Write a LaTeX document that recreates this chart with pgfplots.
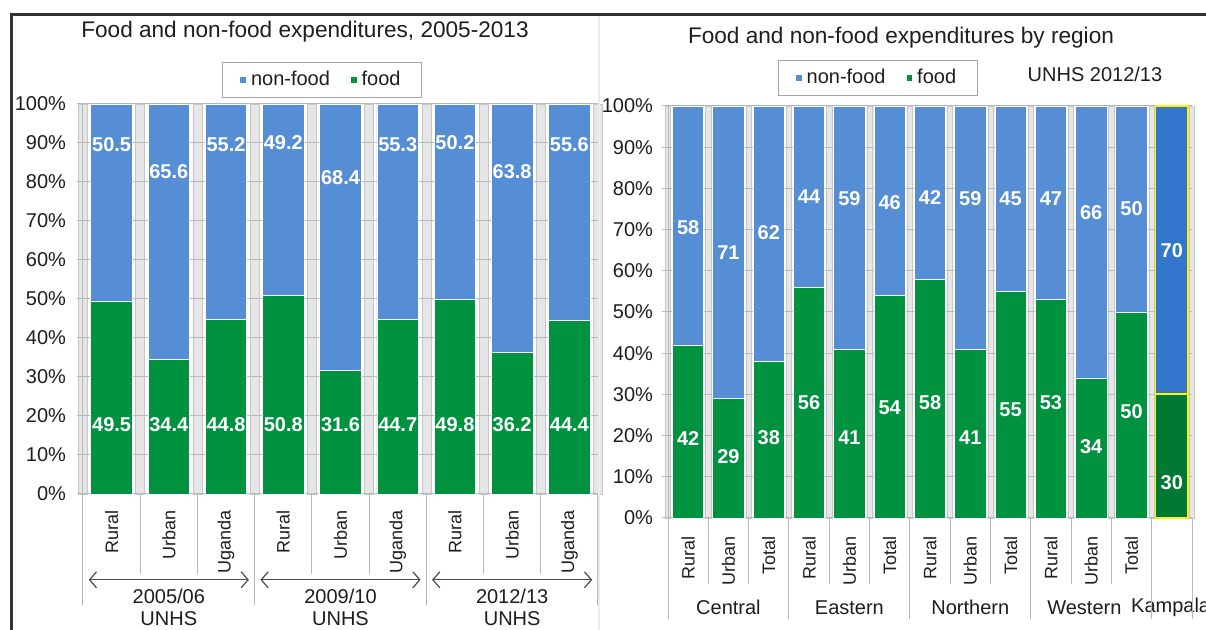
\documentclass[border=0pt]{standalone}
\usepackage{pgfplots}
\pgfplotsset{compat=1.18}
\usepackage{pgfplotstable}
\usepackage{fontspec}
\setmainfont{Liberation Sans}
\usetikzlibrary{arrows.meta}

\definecolor{nf}{RGB}{85,142,213}
\definecolor{fd}{RGB}{0,146,63}
\definecolor{kb}{RGB}{51,119,204}
\definecolor{kg}{RGB}{0,122,51}
\definecolor{gridc}{RGB}{185,185,185}
\definecolor{stripe}{RGB}{230,230,230}
\definecolor{txt}{RGB}{30,30,30}

\pgfplotstableread{
x food nonfood fy ny
0 49.5 50.5 17.7 89.5
1 34.4 65.6 17.7 82.6
2 44.8 55.2 17.7 89.5
3 50.8 49.2 17.7 90.0
4 31.6 68.4 17.7 81.0
5 44.7 55.3 17.7 89.5
6 49.8 50.2 17.7 90.0
7 36.2 63.8 17.7 82.6
8 44.4 55.6 17.7 89.5
}\lefttab

\pgfplotstableread{
x food nonfood fy ny
0 42 58 19.4 70.6
1 29 71 15.0 64.3
2 38 62 19.4 69.2
3 56 44 27.9 77.9
4 41 59 19.4 77.4
5 54 46 26.7 76.5
6 58 42 27.9 77.9
7 41 59 19.4 77.4
8 55 45 26.2 77.4
9 53 47 27.9 77.4
10 34 66 17.2 74.0
11 50 50 25.7 75.0
}\righttab

\pgfplotstableread{
x food nonfood fy ny
12 30 70 8.7 64.8
}\kamtab

\newcommand{\fs}{\fontsize{10}{12}\selectfont}
\newcommand{\fsn}{\fontsize{9}{11}\selectfont}

\pgfplotsset{
  leftgeom/.style={scale only axis, at={(41.5pt,68pt)}, anchor=south west,
    width=257.5pt, height=195pt, xmin=-0.5, xmax=8.5, ymin=0, ymax=100, clip=false},
  rightgeom/.style={scale only axis, at={(334pt,56pt)}, anchor=south west,
    width=262pt, height=206pt, xmin=-0.5, xmax=12.5, ymin=0, ymax=100, clip=false},
  mainstyle/.style={ybar stacked,
    axis x line*=bottom, axis y line*=left,
    axis line style={draw=gridc, line width=0.5pt},
    ymajorgrids, grid style={draw=gridc, line width=0.5pt},
    ytick={0,10,...,100},
    yticklabels={0\%,10\%,20\%,30\%,40\%,50\%,60\%,70\%,80\%,90\%,100\%},
    y tick style={draw=gridc, line width=0.5pt}, tick align=outside, major tick length=3pt,
    x tick style={draw=none},
    yticklabel style={font=\fs, text=txt},
    xticklabel style={font=\fsn, text=txt, rotate=90, anchor=east},
    reverse legend,
    legend cell align=left,
    legend image code/.code={\fill[##1] (0pt,-1.7pt) rectangle (3.4pt,1.7pt);},
    legend style={draw=gray!70, line width=0.5pt, font=\fs, text=txt, legend columns=2,
      inner xsep=8.5pt, inner ysep=2.5pt,
      /tikz/every even column/.append style={column sep=8pt}},
  },
  labstyle/.style={draw=none, nodes near coords, point meta=explicit symbolic,
    nodes near coords style={anchor=center, font=\fs\bfseries, text=white}},
}

\begin{document}
\begin{tikzpicture}
\useasboundingbox (0,0) rectangle (603pt,315pt);
\clip (0,0) rectangle (603pt,315pt);
\fill[white] (0,0) rectangle (603pt,315pt);

% ---------------- LEFT PANEL ----------------
\begin{axis}[leftgeom, hide axis]
\addplot[ybar, bar width=4.5pt, bar shift=0pt, fill=stripe, draw=gridc!80, line width=0.3pt]
  coordinates {(-0.5,100)(0.5,100)(1.5,100)(2.5,100)(3.5,100)(4.5,100)(5.5,100)(6.5,100)(7.5,100)(8.5,100)};
\end{axis}

\begin{axis}[leftgeom, mainstyle, bar width=20.8pt,
  xtick={0,...,8}, xticklabels={Rural,Urban,Uganda,Rural,Urban,Uganda,Rural,Urban,Uganda},
  xticklabel shift=1.5pt,
  yticklabel style={xshift=-2pt},
  legend style={at={(0.464,1.062)}, anchor=center}]
\addplot[fill=fd, draw=white, line width=0.4pt] table[x=x, y=food] \lefttab;
\addplot[fill=nf, draw=white, line width=0.4pt] table[x=x, y=nonfood] \lefttab;
\legend{food,non-food}
\pgfplotsinvokeforeach{0.5,1.5,3.5,4.5,6.5,7.5}{
  \draw[gridc, line width=0.5pt] (axis cs:#1,0) -- (axis cs:#1,-20.5);}
\pgfplotsinvokeforeach{-0.5,2.5,5.5,8.5}{
  \draw[gridc, line width=0.5pt] (axis cs:#1,0) -- (axis cs:#1,-28.5);}
\pgfplotsinvokeforeach{1,4,7}{
  \draw[gray!60!black, line width=0.6pt, {Straight Barb[length=3.5pt,width=8pt]}-{Straight Barb[length=3.5pt,width=8pt]}]
    (axis cs:#1-1.4,-22) -- (axis cs:#1+1.4,-22);}
\node[font=\fs, text=txt] at (axis cs:1,-26.2) {2005/06};
\node[font=\fs, text=txt] at (axis cs:1,-31.9) {UNHS};
\node[font=\fs, text=txt] at (axis cs:4,-26.2) {2009/10};
\node[font=\fs, text=txt] at (axis cs:4,-31.9) {UNHS};
\node[font=\fs, text=txt] at (axis cs:7,-26.2) {2012/13};
\node[font=\fs, text=txt] at (axis cs:7,-31.9) {UNHS};
\end{axis}

\begin{axis}[leftgeom, hide axis]
\addplot[labstyle] table[x=x, y=fy, meta=food] \lefttab;
\addplot[labstyle] table[x=x, y=ny, meta=nonfood] \lefttab;
\end{axis}

% ---------------- RIGHT PANEL ----------------
\begin{axis}[rightgeom, hide axis]
\addplot[ybar, bar width=2.6pt, bar shift=0pt, fill=stripe, draw=gridc!80, line width=0.3pt]
  coordinates {(-0.5,100)(0.5,100)(1.5,100)(2.5,100)(3.5,100)(4.5,100)(5.5,100)(6.5,100)(7.5,100)(8.5,100)(9.5,100)(10.5,100)(11.5,100)(12.5,100)};
\end{axis}

\begin{axis}[rightgeom, mainstyle, bar width=15.7pt,
  xtick={0,...,11}, xticklabels={Rural,Urban,Total,Rural,Urban,Total,Rural,Urban,Total,Rural,Urban,Total},
  xticklabel shift=2.5pt,
  yticklabel style={xshift=-1pt},
  legend style={at={(0.40,1.068)}, anchor=center}]
\addplot[fill=fd, draw=white, line width=0.4pt] table[x=x, y=food] \righttab;
\addplot[fill=nf, draw=white, line width=0.4pt] table[x=x, y=nonfood] \righttab;
\legend{food,non-food}
\pgfplotsinvokeforeach{0.5,1.5,3.5,4.5,6.5,7.5,9.5,10.5}{
  \draw[gridc, line width=0.5pt] (axis cs:#1,0) -- (axis cs:#1,-16);}
\pgfplotsinvokeforeach{-0.5,2.5,5.5,8.5,11.5,12.5}{
  \draw[gridc, line width=0.5pt] (axis cs:#1,0) -- (axis cs:#1,-24.5);}
\node[font=\fs, text=txt] at (axis cs:1,-21.8) {Central};
\node[font=\fs, text=txt] at (axis cs:4,-21.8) {Eastern};
\node[font=\fs, text=txt] at (axis cs:7,-21.8) {Northern};
\node[font=\fs, text=txt] at (axis cs:9.83,-21.8) {Western};
\node[font=\fs, text=txt] at (axis cs:11.97,-21.8) {Kampala};
\end{axis}

\begin{axis}[rightgeom, hide axis]
\addplot[ybar, bar width=16.3pt, bar shift=0pt, fill=kb, draw=yellow, line width=0.9pt] table[x=x, y expr=100] \kamtab;
\addplot[ybar, bar width=16.3pt, bar shift=0pt, fill=kg, draw=yellow, line width=0.9pt] table[x=x, y=food] \kamtab;
\addplot[labstyle] table[x=x, y=fy, meta=food] \righttab;
\addplot[labstyle] table[x=x, y=ny, meta=nonfood] \righttab;
\addplot[labstyle] table[x=x, y=fy, meta=food] \kamtab;
\addplot[labstyle] table[x=x, y=ny, meta=nonfood] \kamtab;
\end{axis}

% ---------------- titles and frame ----------------
\node[font=\fontsize{11.3}{13}\selectfont, text=txt] at (152.5pt,299pt) {Food and non-food expenditures, 2005-2013};
\node[font=\fontsize{11.3}{13}\selectfont, text=txt] at (450.5pt,296pt) {Food and non-food expenditures by region};
\node[font=\fs, text=txt] at (547.5pt,278pt) {UNHS 2012/13};

\draw[gray!15, line width=0.6pt] (299.5pt,0) -- (299.5pt,307.5pt);
\draw[black!80, line width=1.5pt] (5.5pt,0) -- (5.5pt,307.5pt) -- (604pt,307.5pt);
\end{tikzpicture}
\end{document}
